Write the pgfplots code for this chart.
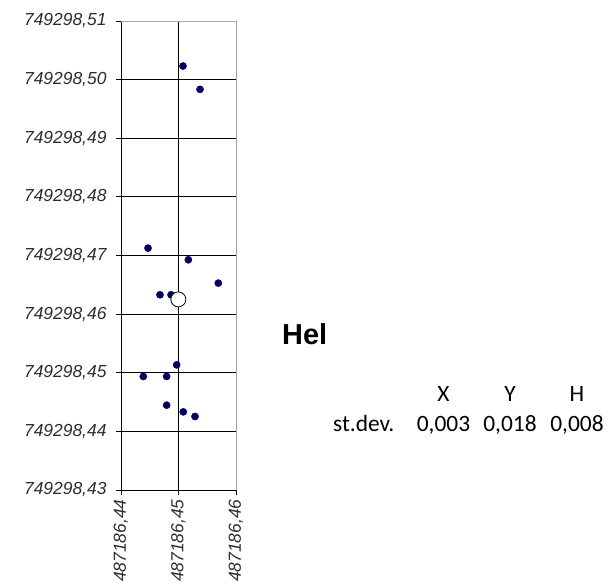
\documentclass[border=0pt]{standalone}
\usepackage{pgfplots}
\pgfplotsset{compat=1.18}
\usepackage{fontspec}
\setmainfont{Liberation Sans}
\newfontfamily\carlito{Carlito}
\definecolor{navydot}{RGB}{0,0,96}
\definecolor{ticktext}{RGB}{45,45,45}
\begin{document}
\begin{tikzpicture}
\useasboundingbox (0,0) rectangle (608bp,585bp);
\begin{axis}[
  at={(121bp,95bp)}, anchor=south west,
  scale only axis, width=115bp, height=469bp,
  xmin=0.44, xmax=0.46, ymin=0.43, ymax=0.51,
  xtick={0.44,0.45,0.46},
  xticklabels={{487186,44},{487186,45},{487186,46}},
  ytick={0.43,0.44,0.45,0.46,0.47,0.48,0.49,0.50,0.51},
  yticklabels={{749298,43},{749298,44},{749298,45},{749298,46},{749298,47},{749298,48},{749298,49},{749298,50},{749298,51}},
  /pgf/number format/assume math mode=true,
  tick pos=left, tick align=outside, major tick length=5bp,
  tick style={black, line width=0.9bp},
  grid=major, major grid style={black, line width=0.9bp},
  axis line style={black, line width=0.9bp},
  tick label style={font=\fontsize{17.5}{17.5}\selectfont\itshape, text=ticktext},
  yticklabel style={xshift=-6bp},
  xticklabel style={rotate=90, anchor=east, xshift=-1bp},
  clip=false,
]
\addplot[only marks, mark=*, mark size=3.6bp, mark options={fill=navydot, draw=navydot}] coordinates {
(0.45078,0.50232) (0.45374,0.49834) (0.44470,0.47126) (0.45171,0.46927)
(0.45692,0.46529) (0.44678,0.46330) (0.44870,0.46330) (0.44968,0.45135)
(0.44388,0.44937) (0.44794,0.44937) (0.44794,0.44447) (0.45083,0.44333)
(0.45287,0.44254)
};
\addplot[only marks, mark=*, mark size=7.5bp, mark options={fill=white, draw=black, line width=0.8bp}] coordinates {(0.44997,0.46251)};
\draw[gray!70, line width=0.9bp] (rel axis cs:0,1) -- (rel axis cs:1,1) -- (rel axis cs:1,0);
\end{axis}
\node[anchor=base west, inner sep=0pt, font=\fontsize{29}{29}\selectfont\bfseries] at (282bp,240bp) {Hel};
\begin{scope}[every node/.style={inner sep=0pt, anchor=base, font=\carlito\fontsize{23.5}{23.5}\selectfont}]
\node at (443.5bp,183bp) {X};
\node at (510bp,183bp) {Y};
\node at (577bp,183bp) {H};
\node[anchor=base west] at (333bp,153bp) {st.dev.};
\node at (443.5bp,153bp) {0,003};
\node at (510bp,153bp) {0,018};
\node at (577bp,153bp) {0,008};
\end{scope}
\end{tikzpicture}
\end{document}
